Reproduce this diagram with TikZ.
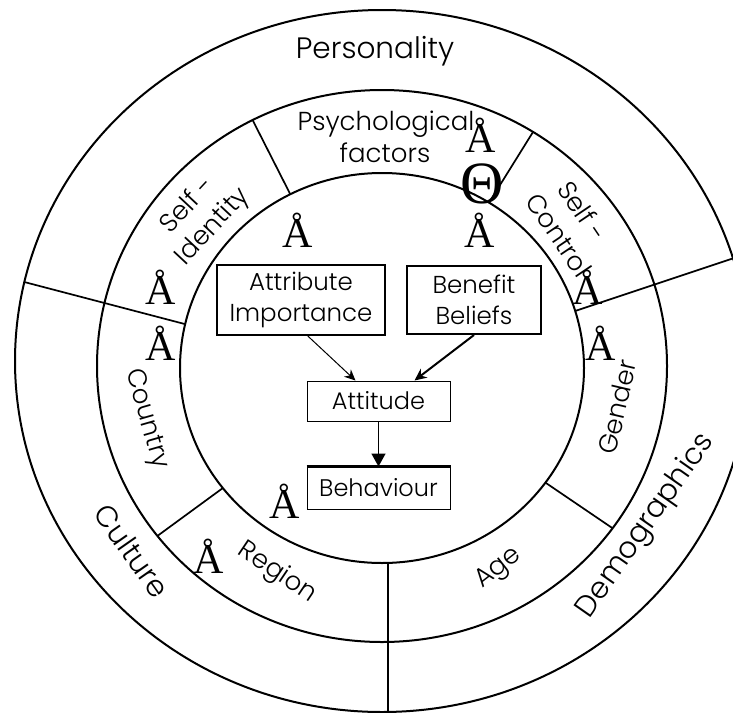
\documentclass[tikz,border=0pt]{standalone}
\usepackage{fontspec}
\setmainfont{Poppins}[UprightFont={* Light}]
\newfontfamily\serifA{Liberation Serif}
\usetikzlibrary{arrows.meta,calc}
\begin{document}
\begin{tikzpicture}[x=1pt,y=-1pt,
  ring/.style={line width=2pt},
  spoke/.style={line width=1.7pt},
  lbl/.style={font=\fontsize{26}{32}\selectfont, inner sep=0pt},
  big/.style={font=\fontsize{29.5}{34}\selectfont, inner sep=0pt},
  sym/.style={font=\serifA\fontsize{42}{42}\selectfont, inner sep=0pt, anchor=base},
  boxthick/.style={draw, line width=2pt, inner sep=0pt, align=center, font=\fontsize{24.5}{31}\selectfont},
  boxthin/.style={draw, line width=1pt, inner sep=0pt, align=center, font=\fontsize{24}{29}\selectfont},
]
\useasboundingbox (0,0) rectangle (733,712);
\fill[white] (0,0) rectangle (733,712);
\clip (0,0) rectangle (733,712);
% centres of the three rings
\coordinate (ci) at (382,368);
\coordinate (cm) at (382,366);
\coordinate (co) at (382,361);
\draw[ring] (ci) ellipse [x radius=202, y radius=195];
\draw[ring] (cm) ellipse [x radius=285, y radius=276];
\draw[ring] (co) ellipse [x radius=367, y radius=351];
% spokes
\draw[spoke] ($(ci)+(-17:202 and 195)$) -- ($(co)+(-17:367 and 351)$);
\draw[spoke] ($(ci)+(-167:202 and 195)$) -- ($(co)+(-167:367 and 351)$);
\draw[spoke] ($(ci)+(-117:202 and 195)$) -- ($(cm)+(-117:285 and 276)$);
\draw[spoke] ($(ci)+(-58:202 and 195)$) -- ($(cm)+(-58:285 and 276)$);
\draw[spoke] ($(ci)+(142:202 and 195)$) -- ($(cm)+(142:285 and 276)$);
\draw[spoke] ($(ci)+(36:202 and 195)$) -- ($(cm)+(36:285 and 276)$);
\coordinate (vb1) at (388,563);
\coordinate (vb2) at (388,712);
\draw[line width=2.2pt] (vb1) -- (vb2);
% ring labels
\node[big, anchor=base] (pers) at (375,58) {Personality};
\node[lbl, anchor=base] (psy1) at (386,130) {Psychological};
\node[lbl, anchor=base] (psy2) at (385,162) {factors};
\node[lbl, rotate=47] (si1) at (186,204) {Self -};
\node[lbl, rotate=47] (si2) at (213,227) {Identity};
\node[lbl, rotate=-56] (sc1) at (583,211) {Self -};
\node[lbl, rotate=-56] (sc2) at (559,235) {Control};
\node[lbl, rotate=-74] (cty) at (146,419) {Country};
\node[lbl, rotate=77] (gen) at (617,407) {Gender};
\node[lbl, rotate=-34] (reg) at (277,573) {Region};
\node[lbl, rotate=38] (age) at (499,569) {Age};
\node[big, rotate=-55] (cul) at (132,551) {Culture};
\node[big, rotate=55] (dem) at (646,526) {Demographics};
% symbols
\node[sym] (s1) at (481,152) {Å};
\node[sym] (s2) at (298,247) {Å};
\node[sym] (s3) at (480,247) {Å};
\node[sym] (s4) at (161,304) {Å};
\node[sym] (s5) at (161,360) {Å};
\node[sym] (s6) at (588,304) {Å};
\node[sym] (s7) at (601,360) {Å};
\node[sym] (s8) at (285,518) {Å};
\node[sym] (s9) at (209,573) {Å};
\node[font=\serifA\fontsize{60}{60}\selectfont, inner sep=0pt] (s10) at (482,184) {Θ};
% boxes
\node[boxthick, minimum width=168, minimum height=70] (ai) at (301,300) {Attribute\\Importance};
\node[boxthick, minimum width=134, minimum height=68] (bb) at (474,300) {Benefit\\Beliefs};
\node[boxthin, minimum width=143, minimum height=40] (att) at (378.5,401) {Attitude};
\node[boxthin, minimum width=143, minimum height=42] (beh) at (378.5,488) {Behaviour};
\draw[line width=2.5pt] (beh.north west) -- (beh.north east);
% arrows
\draw[line width=1pt, -{Stealth[length=11pt,width=10pt]}] ($(ai.south west)!0.54!(ai.south east)$) -- ($(att.north west)!0.34!(att.north east)$);
\draw[line width=2pt, -{Stealth[length=12pt,width=11pt]}] (bb.south) -- ($(att.north west)!0.75!(att.north east)$);
\draw[line width=1.5pt, -{Triangle[length=13pt,width=14pt]}] (att.south) -- (beh.north);
\end{tikzpicture}
\end{document}
